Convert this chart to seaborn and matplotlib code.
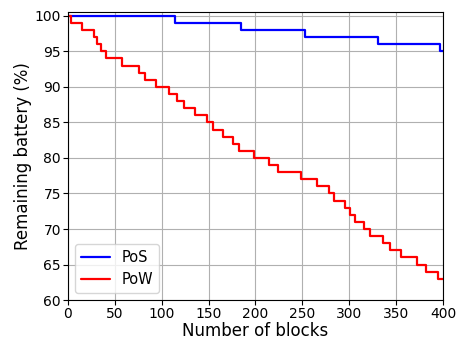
import numpy as np
import pandas as pd
import matplotlib
matplotlib.use("Agg")
import matplotlib.pyplot as plt
import seaborn as sns

# Block numbers where remaining battery drops by 1 percentage point
pos_drops = [114, 185, 253, 331, 397]
pow_drops = [3, 15, 28, 31, 35, 41, 58, 76, 82, 94, 108, 116, 124, 136, 148, 155,
             165, 176, 182, 198, 214, 224, 249, 266, 278, 284, 296, 301, 306,
             316, 322, 336, 344, 355, 372, 382, 395]
start_level = 100
end_block = 400
series_names = ["PoS", "PoW"]
colors = ["blue", "red"]


def step_series(drops):
    xs = [0] + drops + [end_block]
    ys = [start_level - i for i in range(len(drops) + 1)]
    ys = ys + [ys[-1]]
    return xs, ys


rows = []
for name, drops in zip(series_names, [pos_drops, pow_drops]):
    xs, ys = step_series(drops)
    for x, y in zip(xs, ys):
        rows.append({"blocks": x, "battery": y, "method": name})
df = pd.DataFrame(rows)

sns.set_style("white")
plt.rcParams["font.family"] = ["DejaVu Sans"]
plt.rcParams["text.color"] = "black"
plt.rcParams["axes.labelcolor"] = "black"
plt.rcParams["xtick.color"] = "black"
plt.rcParams["ytick.color"] = "black"

fig = plt.figure(figsize=(4.67, 3.41), dpi=100)
ax = fig.add_axes([0.1456, 0.120, 0.8030, 0.846])

sns.lineplot(data=df, x="blocks", y="battery", hue="method", hue_order=series_names,
             palette=colors, drawstyle="steps-post", linewidth=1.6, ax=ax,
             estimator=None, sort=False)

ax.set_xlim(0, 400)
ax.set_ylim(60, 100.6)
ax.set_xticks(np.arange(0, 401, 50))
ax.set_yticks(np.arange(60, 101, 5))
ax.grid(True, color="#b0b0b0", linewidth=0.8)
ax.set_axisbelow(True)
for s in ax.spines.values():
    s.set_color("black")
    s.set_linewidth(0.8)
ax.tick_params(axis="both", direction="out", length=3.5, width=0.8, colors="black",
               labelsize=10, bottom=True, left=True, pad=1.5)
ax.set_xlabel("Number of blocks", fontsize=12, labelpad=1, color="black")
ax.set_ylabel("Remaining battery (%)", fontsize=12, labelpad=2, color="black")
leg = ax.legend(loc="lower left", fontsize=10.5, frameon=True, title=None)
for t in leg.get_texts():
    t.set_color("black")

fig.savefig("out.png", dpi=100)
